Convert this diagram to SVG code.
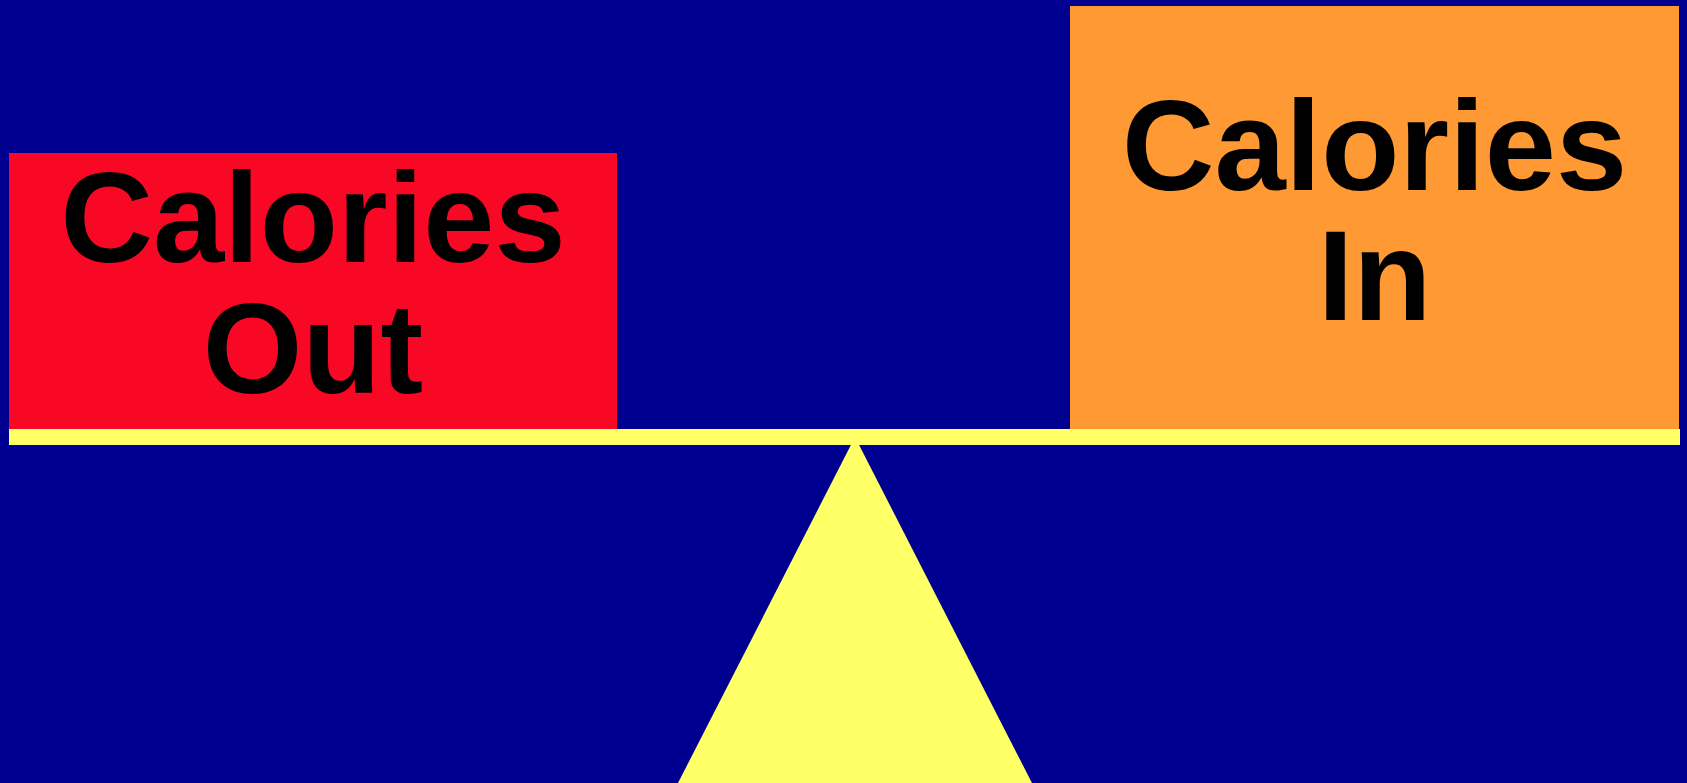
<svg xmlns="http://www.w3.org/2000/svg" width="1687" height="783" viewBox="0 0 1687 783">
<style>
.lbl{font-family:"Liberation Sans",Arial,sans-serif;font-weight:bold;font-size:128px;fill:#000;text-anchor:middle}
</style>
<rect x="0" y="0" width="1687" height="783" fill="#000090"/>
<g id="calories-out">
<rect x="9" y="153" width="608" height="276" fill="#F80824"/>
<text class="lbl" x="313" y="262">Calories</text>
<text class="lbl" x="313" y="393">Out</text>
</g>
<g id="calories-in">
<rect x="1070" y="6" width="609" height="423" fill="#FF9933"/>
<text class="lbl" x="1374.5" y="190">Calories</text>
<text class="lbl" x="1374.5" y="320">In</text>
</g>
<g id="scale">
<polygon points="855,437 1032,783 678,783" fill="#FFFF66"/>
<rect x="9" y="429" width="1671" height="16" fill="#FFFF66"/>
</g>
<g id="connectors"/>
</svg>
